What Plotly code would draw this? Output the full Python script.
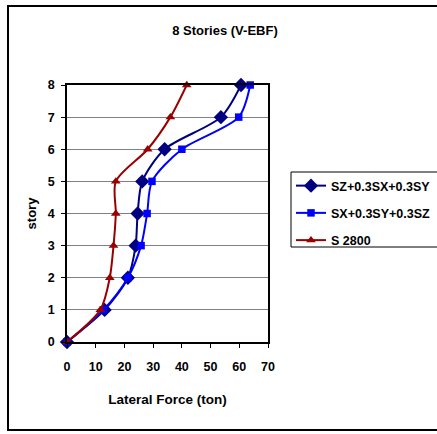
import plotly.graph_objects as go

stories = [0, 1, 2, 3, 4, 5, 6, 7, 8]
sz_combo = [0, 13.1, 21.2, 23.9, 24.6, 26.2, 34.0, 53.6, 60.6]
sx_combo = [0, 12.7, 21.2, 25.8, 27.9, 29.6, 40.0, 59.8, 63.8]
s2800 = [0, 11.6, 14.9, 16.2, 17.0, 17.0, 28.1, 36.0, 41.7]
names = ["SZ+0.3SX+0.3SY", "SX+0.3SY+0.3SZ", "S 2800"]
x_ticks = [0, 10, 20, 30, 40, 50, 60, 70]
y_ticks = [0, 1, 2, 3, 4, 5, 6, 7, 8]

FONT = "Liberation Sans, Arial, sans-serif"
W, H = 437, 434
L, R, T, B = 67, 268, 85, 342  # plot area pixel bounds

def px(xp):
    return (xp - L) / (R - L)

def py(yp):
    return (B - yp) / (B - T)

fig = go.Figure()
series = [
    (sz_combo, "#000080", "diamond", 11),
    (sx_combo, "#0000FF", "square", 7.5),
    (s2800, "#990000", "triangle-up", 8.5),
]
for i, (vals, col, sym, sz) in enumerate(series):
    fig.add_trace(go.Scatter(
        x=vals, y=stories, name=names[i], mode="lines+markers",
        line=dict(color=col, width=2, shape="spline", smoothing=0.8),
        marker=dict(symbol=sym, size=sz, color=col),
        cliponaxis=False, legendgroup=str(i),
    ))

fig.update_layout(
    width=W, height=H,
    margin=dict(l=L, r=W - R, t=T, b=H - B, autoexpand=False),
    paper_bgcolor="white", plot_bgcolor="white",
    font=dict(family=FONT, size=12.5, color="black", weight="bold"),
    title=dict(text="8 Stories (V-EBF)", x=225 / W, xref="container",
               y=1 - 30 / H, yref="container", xanchor="center", yanchor="middle",
               font=dict(size=13, family=FONT, weight="bold")),
    showlegend=True,
    legend=dict(x=px(291), y=py(171), xanchor="left", yanchor="top",
                bgcolor="rgba(0,0,0,0)", borderwidth=0,
                tracegroupgap=8, traceorder="grouped",
                font=dict(size=12.5, family=FONT, weight="bold")),
    xaxis=dict(range=[0, 70], tickvals=x_ticks, ticks="outside", ticklen=4,
               tickcolor="black", showline=True, linecolor="black", linewidth=1.5,
               mirror=True, showgrid=False, zeroline=False, fixedrange=True,
               ticklabelstandoff=8, automargin=False,
               title=dict(text="Lateral Force (ton)", standoff=22,
                          font=dict(size=13.5, weight="bold"))),
    yaxis=dict(range=[0, 8], tickvals=y_ticks, ticks="outside", ticklen=4,
               tickcolor="black", showline=True, linecolor="black", linewidth=1.5,
               mirror=True, showgrid=True, gridcolor="#808080", gridwidth=1,
               zeroline=False, fixedrange=True, ticklabelstandoff=4, automargin=False,
               title=dict(text="story", standoff=8,
                          font=dict(size=13, weight="bold"))),
    shapes=[
        dict(type="rect", xref="paper", yref="paper",
             x0=px(8), x1=px(W + 10), y0=py(430), y1=py(6),
             line=dict(color="black", width=2), fillcolor="rgba(0,0,0,0)", layer="below"),
        dict(type="rect", xref="paper", yref="paper",
             x0=px(291), x1=px(W + 10), y0=py(247), y1=py(172),
             line=dict(color="black", width=1), fillcolor="rgba(0,0,0,0)", layer="below"),
    ],
)

fig.write_html("out.html", config={"displayModeBar": False})
